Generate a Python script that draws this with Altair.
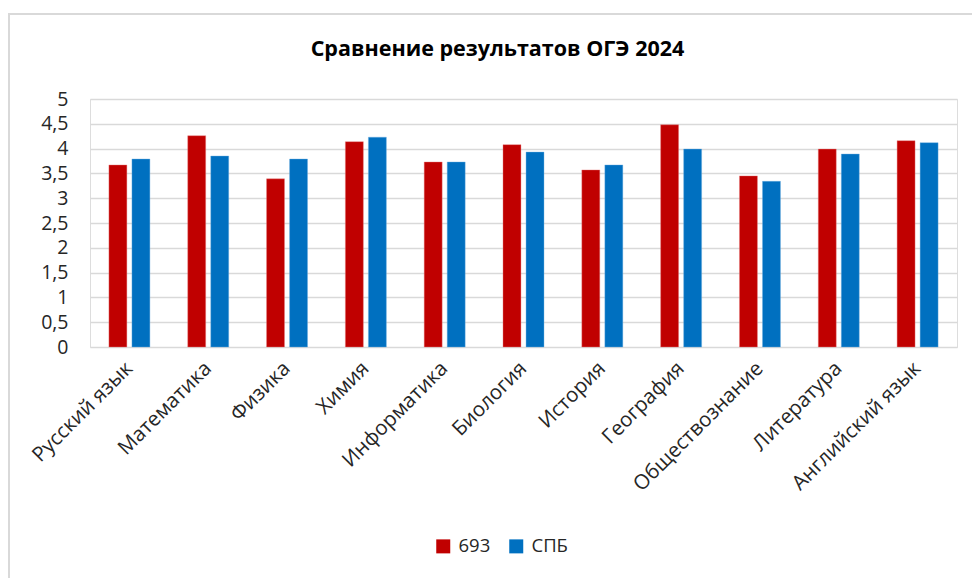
import altair as alt
import pandas as pd

subjects = ["Русский язык", "Математика", "Физика", "Химия", "Информатика", "Биология",
            "История", "География", "Обществознание", "Литература", "Английский язык"]
school_693 = [3.67, 4.26, 3.39, 4.14, 3.73, 4.08, 3.57, 4.48, 3.45, 3.99, 4.16]
spb = [3.79, 3.85, 3.79, 4.23, 3.73, 3.93, 3.67, 3.99, 3.34, 3.89, 4.12]
series = ["693", "СПБ"]
colors = ["#C00000", "#0070C0"]

rows = []
for i, s in enumerate(subjects):
    rows.append({"subject": s, "series": series[0], "value": school_693[i]})
    rows.append({"subject": s, "series": series[1], "value": spb[i]})
df = pd.DataFrame(rows)

W, H = 867, 248
FONT = "Open Sans"

bars = alt.Chart(df).mark_bar(strokeWidth=0.8, strokeOpacity=0.5).encode(
    x=alt.X("subject:N", sort=subjects, title=None,
            scale=alt.Scale(paddingInner=0.48, paddingOuter=0.24),
            axis=alt.Axis(labelAngle=-45, labelAlign="right", labelBaseline="middle",
                          labelFontSize=20.5, labelFont=FONT, labelColor="#262626",
                          ticks=False, domain=False, grid=False, labelPadding=18,
                          labelLimit=300)),
    xOffset=alt.XOffset("series:N", sort=series,
                        scale=alt.Scale(paddingInner=0.22, paddingOuter=0)),
    y=alt.Y("value:Q", title=None,
            scale=alt.Scale(domain=[0, 5], nice=False),
            axis=alt.Axis(values=[0, 0.5, 1, 1.5, 2, 2.5, 3, 3.5, 4, 4.5, 5],
                          labelExpr="replace(format(datum.value, ''), '.', ',')",
                          labelFontSize=19.5, labelFont=FONT, labelColor="#262626",
                          ticks=False, domain=False, gridColor="#d9d9d9", gridWidth=1.5,
                          labelPadding=22)),
    color=alt.Color("series:N", sort=series,
                    scale=alt.Scale(domain=series, range=colors),
                    legend=alt.Legend(title=None, orient="none", legendX=344, legendY=438,
                                      direction="horizontal", symbolType="square",
                                      symbolSize=196, symbolStrokeWidth=0,
                                      labelFontSize=18.5, labelFont=FONT, labelColor="#262626",
                                      labelOffset=6, columnPadding=16)),
    stroke=alt.Color("series:N", sort=series,
                     scale=alt.Scale(domain=series, range=["#e88080", "#6fb0e0"]),
                     legend=None),
)

border = alt.Chart(pd.DataFrame({"k": [0]})).mark_rule(color="#d9d9d9", strokeWidth=2).encode(
    x=alt.value(-81), x2=alt.value(-81), y=alt.value(-86), y2=alt.value(H + 240))
border_top = alt.Chart(pd.DataFrame({"k": [0]})).mark_rule(color="#d9d9d9", strokeWidth=2).encode(
    x=alt.value(-81), x2=alt.value(W + 100), y=alt.value(-85), y2=alt.value(-85))

chart = alt.layer(border, border_top, bars).properties(
    width=W, height=H,
    title=alt.TitleParams("Сравнение результатов ОГЭ 2024", font=FONT, fontSize=21.5,
                          fontWeight="bold", color="#000000", anchor="middle",
                          dx=-26, offset=-48),
    autosize=alt.AutoSizeParams(type="none"),
    padding={"left": 90, "top": 99, "right": 15, "bottom": 231},
).configure_view(stroke=None).configure(background="white")

chart.save("out.html", embed_options={"renderer": "svg", "actions": False})
